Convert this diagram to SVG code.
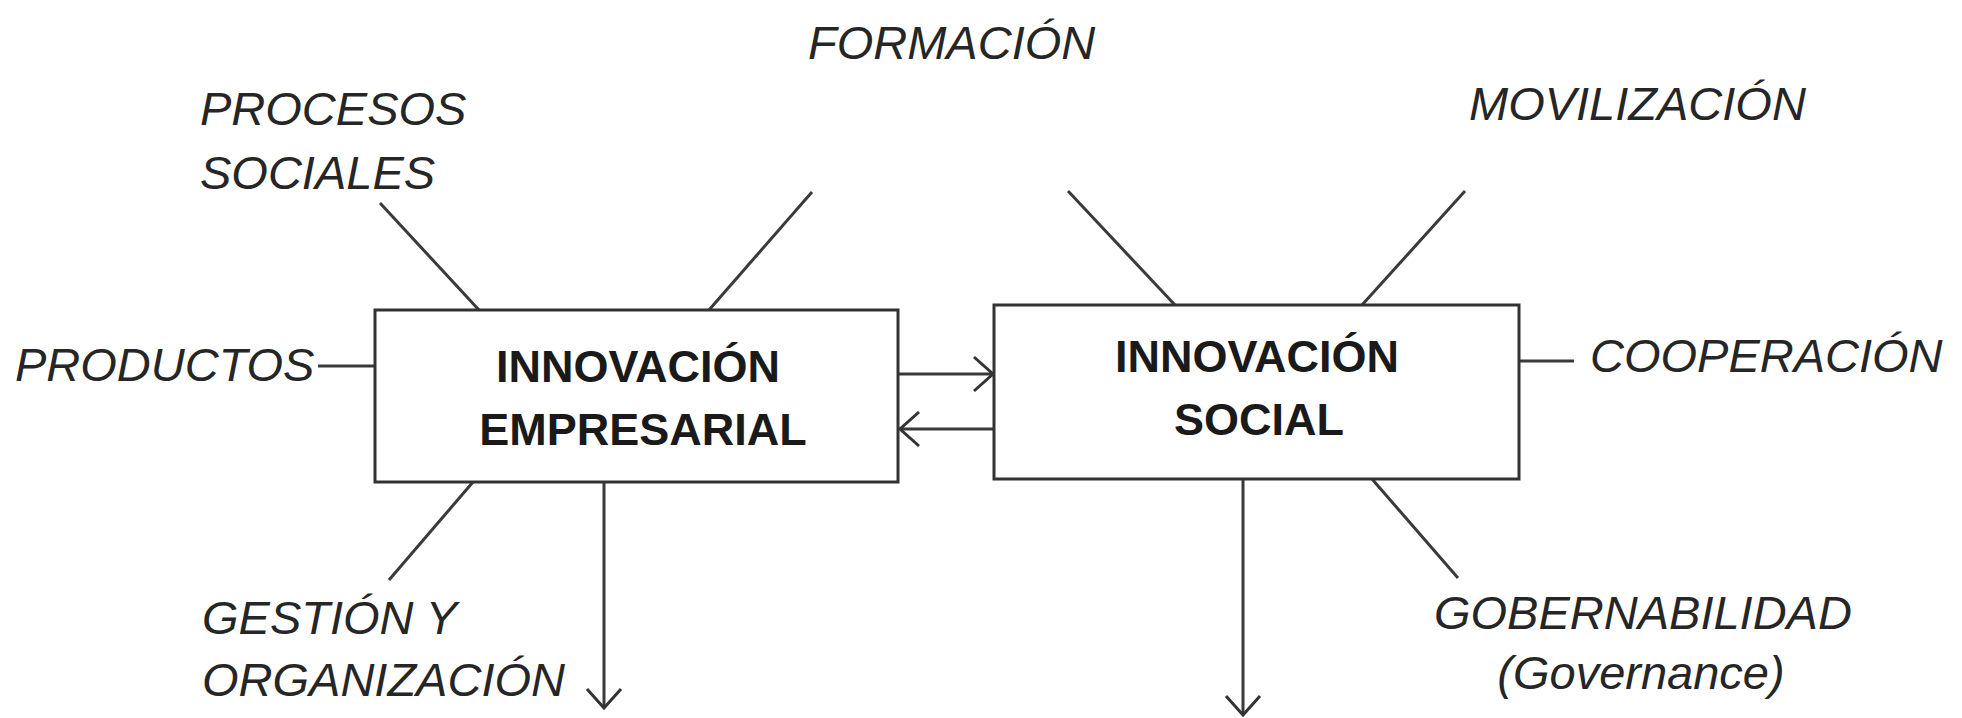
<svg xmlns="http://www.w3.org/2000/svg" width="1962" height="718" viewBox="0 0 1962 718">
<defs>
<style>
.lbl{font-family:"Liberation Sans",Arial,sans-serif;font-style:italic;font-size:47px;fill:#262626}
.ttl{font-family:"Liberation Sans",Arial,sans-serif;font-weight:bold;font-size:45px;fill:#1a1a1a;text-anchor:middle}
.box{fill:#fff;stroke:#333;stroke-width:3}
.ln{stroke:#3a3a3a;stroke-width:3;fill:none}
</style>
<marker id="arr" markerUnits="userSpaceOnUse" markerWidth="40" markerHeight="40" viewBox="-22 -20 24 40" refX="0" refY="0" orient="auto" overflow="visible">
<path d="M-19,-17 L0,0 L-19,17" fill="none" stroke="#333" stroke-width="3"/>
</marker>
</defs>
<rect width="1962" height="718" fill="#fff"/>
<g id="connectors">
<line class="ln" x1="380" y1="203" x2="479" y2="310"/>
<line class="ln" x1="812" y1="192" x2="709" y2="310"/>
<line class="ln" x1="1068" y1="191" x2="1175" y2="305"/>
<line class="ln" x1="1465" y1="191" x2="1362" y2="305"/>
<line class="ln" x1="318" y1="366" x2="375" y2="366"/>
<line class="ln" x1="1519" y1="361" x2="1574" y2="361"/>
<line class="ln" x1="473" y1="482" x2="389" y2="580"/>
<line class="ln" x1="1372" y1="479" x2="1458" y2="578"/>
<line class="ln" x1="604" y1="482" x2="604" y2="708" marker-end="url(#arr)"/>
<line class="ln" x1="1243" y1="479" x2="1243" y2="715" marker-end="url(#arr)"/>
<line class="ln" x1="898" y1="374" x2="993" y2="374" marker-end="url(#arr)"/>
<line class="ln" x1="994" y1="429" x2="900" y2="429" marker-end="url(#arr)"/>
</g>
<g id="node-empresarial">
<rect class="box" x="375" y="310" width="523" height="172"/>
<text class="ttl" x="638" y="382">INNOVACIÓN</text>
<text class="ttl" x="643" y="445">EMPRESARIAL</text>
</g>
<g id="node-social">
<rect class="box" x="994" y="305" width="525" height="174"/>
<text class="ttl" x="1257" y="372">INNOVACIÓN</text>
<text class="ttl" x="1259" y="435">SOCIAL</text>
</g>
<g id="label-formacion"><text class="lbl" x="808" y="59">FORMACIÓN</text></g>
<g id="label-procesos"><text class="lbl" x="200" y="125">PROCESOS</text><text class="lbl" x="200" y="189">SOCIALES</text></g>
<g id="label-movilizacion"><text class="lbl" x="1469" y="120">MOVILIZACIÓN</text></g>
<g id="label-productos"><text class="lbl" x="15" y="381">PRODUCTOS</text></g>
<g id="label-cooperacion"><text class="lbl" x="1590" y="372">COOPERACIÓN</text></g>
<g id="label-gestion"><text class="lbl" x="202" y="634">GESTIÓN Y</text><text class="lbl" x="202" y="696">ORGANIZACIÓN</text></g>
<g id="label-gobernabilidad"><text class="lbl" x="1434" y="629">GOBERNABILIDAD</text><text class="lbl" x="1641" y="689" text-anchor="middle">(Governance)</text></g>
</svg>
